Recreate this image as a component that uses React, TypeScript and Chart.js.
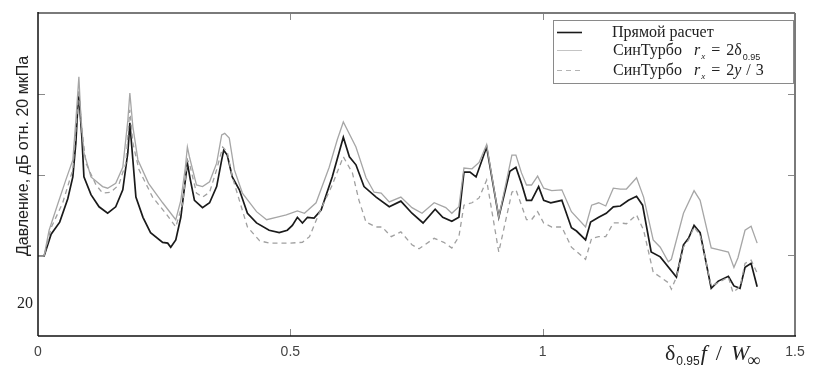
import React, { useEffect, useRef } from "react";
import { Chart, registerables } from "chart.js";

Chart.register(...registerables);

// ---- data ----
const X_TICKS = [0, 0.5, 1, 1.5];
const X_TICK_LABELS = ["0", "0.5", "1", "1.5"];
const Y_TICKS = [20, 30, 40];
const Y_LABEL_VALUE = 14;
const Y_LABEL_TEXT = "20";
const Y_TITLE = "Давление, дБ отн. 20 мкПа";

const SERIES_NAMES = ["Прямой расчет", "СинТурбо", "СинТурбо"];

const X_DIRECT = [0, 0.012, 0.026, 0.043, 0.059, 0.069, 0.075, 0.079, 0.081, 0.087,
  0.091, 0.105, 0.121, 0.138, 0.154, 0.168, 0.178, 0.182, 0.188, 0.194,
  0.208, 0.223, 0.247, 0.257, 0.263, 0.273, 0.283, 0.292, 0.296, 0.302,
  0.310, 0.326, 0.340, 0.354, 0.364, 0.368, 0.375, 0.385, 0.399, 0.415,
  0.433, 0.458, 0.478, 0.494, 0.504, 0.514, 0.524, 0.534, 0.547, 0.561,
  0.583, 0.605, 0.617, 0.630, 0.646, 0.670, 0.696, 0.719, 0.741, 0.763,
  0.787, 0.802, 0.820, 0.834, 0.844, 0.856, 0.868, 0.889, 0.913, 0.935,
  0.947, 0.958, 0.968, 0.978, 0.992, 1.002, 1.016, 1.038, 1.057, 1.067,
  1.085, 1.095, 1.111, 1.126, 1.140, 1.154, 1.170, 1.186, 1.198, 1.215,
  1.233, 1.265, 1.279, 1.289, 1.300, 1.312, 1.334, 1.348, 1.368, 1.379,
  1.391, 1.401, 1.413, 1.425];
const Y_DIRECT = [19.9, 19.9, 22.6, 24.1, 27.0, 29.7, 33.9, 38.6, 39.8, 34.6,
  29.7, 27.5, 26.0, 25.2, 26.0, 28.1, 32.7, 36.4, 31.8, 27.2,
  24.7, 22.8, 21.6, 21.5, 21.0, 21.9, 24.7, 29.3, 31.4, 29.3,
  26.8, 25.9, 26.5, 28.5, 31.8, 33.0, 32.4, 29.7, 28.1, 25.2,
  24.0, 23.1, 22.8, 23.1, 23.7, 24.7, 24.0, 24.7, 24.6, 25.6,
  29.7, 34.6, 32.2, 31.2, 28.5, 27.2, 26.0, 26.7, 25.2, 24.0,
  25.7, 24.7, 24.2, 24.7, 30.3, 30.3, 29.7, 33.4, 24.7, 30.4,
  30.9, 28.9, 26.8, 26.8, 28.5, 26.8, 26.5, 26.8, 23.4, 23.0,
  21.9, 24.1, 24.7, 25.2, 26.0, 26.1, 26.8, 27.3, 26.2, 20.4,
  19.8, 17.3, 21.3, 22.1, 23.7, 22.8, 15.9, 16.8, 17.4, 16.2,
  15.9, 18.5, 19.0, 16.1];

const X_SYN1 = [0, 0.012, 0.022, 0.040, 0.055, 0.069, 0.075, 0.081, 0.085, 0.091,
  0.105, 0.128, 0.138, 0.154, 0.168, 0.178, 0.182, 0.188, 0.198, 0.219,
  0.247, 0.273, 0.283, 0.292, 0.296, 0.300, 0.314, 0.326, 0.340, 0.354,
  0.364, 0.370, 0.379, 0.389, 0.405, 0.433, 0.453, 0.472, 0.492, 0.514,
  0.528, 0.551, 0.577, 0.593, 0.605, 0.630, 0.650, 0.666, 0.680, 0.696,
  0.719, 0.741, 0.761, 0.785, 0.808, 0.820, 0.834, 0.844, 0.860, 0.874,
  0.889, 0.913, 0.939, 0.947, 0.958, 0.968, 0.978, 0.990, 1.002, 1.018,
  1.038, 1.057, 1.085, 1.097, 1.111, 1.125, 1.140, 1.154, 1.166, 1.186,
  1.200, 1.219, 1.233, 1.249, 1.255, 1.279, 1.300, 1.312, 1.334, 1.348,
  1.368, 1.379, 1.387, 1.401, 1.413, 1.425];
const Y_SYN1 = [19.9, 19.9, 23.1, 26.5, 29.3, 31.8, 36.7, 42.1, 37.1, 32.7,
  29.7, 28.5, 28.3, 28.9, 30.9, 36.7, 40.1, 35.9, 31.8, 28.9,
  26.5, 24.4, 26.8, 30.9, 33.4, 32.2, 28.7, 28.5, 29.1, 31.4,
  34.9, 35.1, 34.5, 30.6, 27.7, 25.4, 24.4, 24.7, 25.0, 25.5,
  25.2, 26.5, 30.9, 34.3, 36.5, 33.4, 29.6, 27.8, 27.7, 26.6,
  27.2, 25.9, 25.2, 26.5, 25.9, 25.2, 26.0, 30.8, 30.7, 31.5,
  33.7, 24.7, 32.4, 32.4, 30.2, 28.7, 28.7, 29.8, 28.3, 28.0,
  28.1, 25.4, 23.5, 26.2, 26.5, 26.1, 28.3, 28.2, 28.2, 29.6,
  27.2, 21.9, 21.0, 19.2, 19.5, 25.2, 28.0, 26.8, 20.9, 20.7,
  20.4, 18.5, 19.7, 23.1, 23.6, 21.5];

const X_SYN2 = [0, 0.012, 0.026, 0.049, 0.069, 0.075, 0.081, 0.087, 0.095, 0.115,
  0.128, 0.144, 0.160, 0.174, 0.182, 0.188, 0.200, 0.227, 0.253, 0.273,
  0.287, 0.296, 0.300, 0.314, 0.326, 0.340, 0.354, 0.366, 0.375, 0.385,
  0.399, 0.415, 0.439, 0.458, 0.498, 0.524, 0.538, 0.557, 0.583, 0.605,
  0.623, 0.636, 0.650, 0.670, 0.682, 0.700, 0.719, 0.741, 0.755, 0.785,
  0.804, 0.820, 0.834, 0.844, 0.860, 0.874, 0.889, 0.913, 0.939, 0.947,
  0.958, 0.968, 0.978, 0.990, 1.002, 1.018, 1.038, 1.057, 1.085, 1.097,
  1.111, 1.125, 1.140, 1.154, 1.166, 1.186, 1.200, 1.219, 1.233, 1.249,
  1.255, 1.265, 1.279, 1.289, 1.300, 1.312, 1.334, 1.348, 1.368, 1.377,
  1.391, 1.401, 1.413, 1.425];
const Y_SYN2 = [19.9, 19.9, 23.4, 26.5, 30.6, 35.5, 40.5, 35.5, 31.4, 28.7,
  27.7, 27.8, 28.7, 31.4, 38.0, 33.9, 30.6, 27.2, 25.2, 23.5,
  26.5, 31.8, 31.4, 27.7, 27.2, 27.8, 30.6, 33.4, 32.8, 29.7,
  26.8, 23.5, 21.8, 21.5, 21.5, 21.6, 22.3, 25.2, 28.7, 32.2,
  30.2, 26.8, 24.1, 23.5, 23.5, 22.3, 22.9, 21.3, 20.8, 22.1,
  21.6, 20.9, 22.3, 26.2, 26.5, 27.1, 29.3, 20.4, 27.8, 28.1,
  26.2, 24.4, 24.4, 25.4, 24.0, 23.5, 23.5, 21.0, 19.5, 22.1,
  22.3, 22.3, 24.0, 24.0, 23.9, 25.0, 23.1, 17.9, 17.3, 16.6,
  15.8, 17.3, 21.0, 21.9, 23.5, 22.5, 16.2, 16.6, 17.3, 15.4,
  16.1, 19.0, 19.4, 17.8];

// ---- styles ----
const SERIF = '"Liberation Serif", "Times New Roman", serif';
const SANS = '"Liberation Sans", Arial, sans-serif';
const C_DIRECT = "#1a1a1a";
const C_SYN1 = "#a6a6a6";
const C_SYN2 = "#a0a0a0";
const DASH = [5, 4];

type Piece = { t: string; font: string; dy?: number; gap?: number };

function drawRich(ctx: CanvasRenderingContext2D, x: number, baseline: number, pieces: Piece[]) {
  let cx = x;
  for (const p of pieces) {
    cx += p.gap || 0;
    ctx.font = p.font;
    ctx.fillText(p.t, cx, baseline + (p.dy || 0));
    cx += ctx.measureText(p.t).width;
  }
}

const decorPlugin = {
  id: "decor",
  afterDraw(chart: any) {
    const { ctx, chartArea: a, scales } = chart;
    const xs = scales.x;
    const ys = scales.y;
    ctx.save();
    const line = (x1: number, y1: number, x2: number, y2: number) => {
      ctx.beginPath();
      ctx.moveTo(x1, y1);
      ctx.lineTo(x2, y2);
      ctx.stroke();
    };
    // inward tick marks
    ctx.strokeStyle = "#8a8a8a";
    ctx.lineWidth = 1;
    for (const v of Y_TICKS) {
      const py = Math.round(ys.getPixelForValue(v)) + 0.5;
      line(a.left, py, a.left + 7, py);
      line(a.right - 7, py, a.right, py);
    }
    for (const v of X_TICKS) {
      const px = Math.round(xs.getPixelForValue(v)) + 0.5;
      if (px <= a.left + 2 || px >= a.right - 2) continue;
      line(px, a.bottom, px, a.bottom - 7);
      line(px, a.top, px, a.top + 7);
    }
    // frame
    ctx.strokeStyle = "#7a7a7a";
    ctx.lineWidth = 2;
    line(a.left, a.top, a.right, a.top);
    line(a.right, a.top, a.right, a.bottom);
    ctx.strokeStyle = "#111";
    ctx.lineWidth = 1.5;
    line(a.left, a.top - 1, a.left, a.bottom);
    line(a.left, a.bottom, a.right + 1, a.bottom);

    // x tick labels
    ctx.fillStyle = "#444";
    ctx.font = `14px ${SANS}`;
    ctx.textAlign = "center";
    ctx.textBaseline = "middle";
    X_TICKS.forEach((v, i) => {
      ctx.fillText(X_TICK_LABELS[i], xs.getPixelForValue(v), a.bottom + 16);
    });
    // lone y label
    ctx.fillStyle = "#222";
    ctx.font = `16px ${SERIF}`;
    ctx.textAlign = "right";
    ctx.fillText(Y_LABEL_TEXT, a.left - 5, ys.getPixelForValue(Y_LABEL_VALUE));

    // y title
    ctx.save();
    ctx.translate(24, 156);
    ctx.rotate(-Math.PI / 2);
    ctx.textAlign = "center";
    ctx.textBaseline = "middle";
    ctx.font = `16px ${SANS}`;
    ctx.fillStyle = "#222";
    ctx.fillText(Y_TITLE, 0, 0);
    ctx.restore();

    // x title
    ctx.textAlign = "left";
    ctx.textBaseline = "alphabetic";
    ctx.fillStyle = "#222";
    drawRich(ctx, 665, 360, [
      { t: "δ", font: `22px ${SERIF}` },
      { t: "0.95", font: `12px ${SANS}`, dy: 5, gap: 1 },
      { t: "f", font: `italic 22px ${SERIF}`, gap: 1 },
      { t: "/", font: `22px ${SERIF}`, gap: 9 },
      { t: "W", font: `italic 22px ${SERIF}`, gap: 9 },
      { t: "∞", font: `18px ${SERIF}`, dy: 6, gap: -2 },
    ]);

    // legend
    const lx = 553.5, ly = 20.5, lw = 240, lh = 63;
    ctx.fillStyle = "#fff";
    ctx.fillRect(lx, ly, lw, lh);
    ctx.strokeStyle = "#8a8a8a";
    ctx.lineWidth = 1;
    ctx.strokeRect(lx, ly, lw, lh);
    const rows = [32, 50, 70];
    const styles = [
      { c: C_DIRECT, w: 1.6, d: [] as number[] },
      { c: "#c4c4c4", w: 1, d: [] as number[] },
      { c: "#b4b4b4", w: 1, d: DASH },
    ];
    rows.forEach((ry, i) => {
      ctx.strokeStyle = styles[i].c;
      ctx.lineWidth = styles[i].w;
      ctx.setLineDash(styles[i].d);
      line(557, ry + 0.5, 582, ry + 0.5);
    });
    ctx.setLineDash([]);
    ctx.fillStyle = "#222";
    const f = `16px ${SERIF}`;
    const fi = `italic 16px ${SERIF}`;
    const fs = `italic 9px ${SERIF}`;
    drawRich(ctx, 612, 37, [{ t: SERIES_NAMES[0], font: f }]);
    drawRich(ctx, 613, 55, [
      { t: SERIES_NAMES[1], font: f },
      { t: "r", font: fi, gap: 12 },
      { t: "x", font: fs, dy: 4, gap: 1 },
      { t: "=", font: f, gap: 6 },
      { t: "2δ", font: f, gap: 6 },
      { t: "0.95", font: `9px ${SANS}`, dy: 5, gap: 1 },
    ]);
    drawRich(ctx, 613, 75, [
      { t: SERIES_NAMES[2], font: f },
      { t: "r", font: fi, gap: 12 },
      { t: "x", font: fs, dy: 4, gap: 1 },
      { t: "=", font: f, gap: 6 },
      { t: "2", font: f, gap: 6 },
      { t: "y", font: fi, gap: 0 },
      { t: "/", font: f, gap: 5 },
      { t: "3", font: f, gap: 5 },
    ]);
    ctx.restore();
  },
};

function zip(xs: number[], ys: number[]) {
  return xs.map((x, i) => ({ x, y: ys[i] }));
}

export default function App() {
  const ref = useRef<HTMLCanvasElement | null>(null);
  useEffect(() => {
    document.body.style.margin = "0";
    const canvas = ref.current;
    if (!canvas) return;
    const chart = new Chart(canvas, {
      type: "line",
      data: {
        datasets: [
          {
            label: "СинТурбо 2y/3",
            data: zip(X_SYN2, Y_SYN2),
            borderColor: C_SYN2,
            borderWidth: 1.3,
            borderDash: DASH,
            pointRadius: 0,
            tension: 0,
            fill: false,
          },
          {
            label: "СинТурбо 2δ",
            data: zip(X_SYN1, Y_SYN1),
            borderColor: C_SYN1,
            borderWidth: 1.3,
            pointRadius: 0,
            tension: 0,
            fill: false,
          },
          {
            label: SERIES_NAMES[0],
            data: zip(X_DIRECT, Y_DIRECT),
            borderColor: C_DIRECT,
            borderWidth: 1.7,
            pointRadius: 0,
            tension: 0,
            fill: false,
          },
        ],
      },
      options: {
        animation: false,
        responsive: false,
        maintainAspectRatio: false,
        layout: { padding: { left: 38, right: 27, top: 13, bottom: 48 } },
        plugins: { legend: { display: false }, tooltip: { enabled: false } },
        scales: {
          x: { type: "linear", min: 0, max: 1.5, display: false },
          y: { type: "linear", min: 10, max: 50, display: false },
        },
      },
      plugins: [decorPlugin],
    });
    return () => chart.destroy();
  }, []);
  return (
    <div style={{ width: 822, height: 384, background: "#fff" }}>
      <canvas ref={ref} width={822} height={384} style={{ display: "block" }} />
    </div>
  );
}
